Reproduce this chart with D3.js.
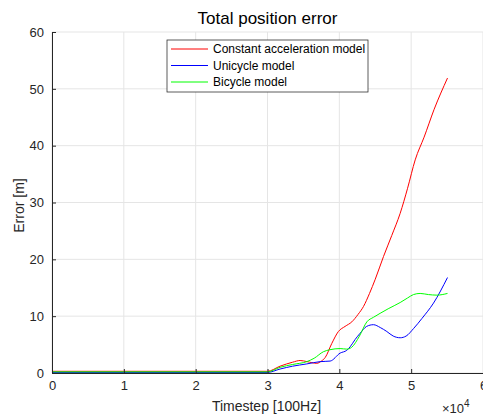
<!DOCTYPE html>
<html>
<head>
<meta charset="utf-8">
<script src="https://cdn.jsdelivr.net/npm/d3@7"></script>
<style>
  body { margin: 0; background: #fff; }
  text { font-family: "Liberation Sans", Arial, sans-serif; }
</style>
</head>
<body>
<div id="chart"></div>
<script>
// data (x in timesteps, y in metres)
const seriesNames = ['Constant acceleration model', 'Unicycle model', 'Bicycle model'];
const seriesColors = ['#ff0000', '#0000ff', '#00ff00'];

const caX = [0, 10000, 20000, 30000, 31750, 33500, 34540, 35500, 36860, 37500, 38020, 38950, 39870, 40800, 41740, 42600, 43360, 44200, 45000, 46150, 47300, 48470, 49500, 50560, 51800, 53200, 55060];
const caY = [0.3, 0.3, 0.3, 0.3, 1.2, 1.9, 2.2, 2.0, 1.7, 2.1, 2.7, 5.2, 7.3, 8.2, 9.0, 10.3, 11.7, 14.0, 16.5, 20.5, 24.2, 28.1, 32.5, 37.5, 41.5, 46.4, 51.9];

const uniX = [0, 10000, 20000, 30000, 31750, 33500, 35470, 37330, 38720, 40110, 41040, 41500, 42200, 42900, 43800, 44750, 45700, 46610, 47500, 48470, 49300, 50320, 51500, 53110, 55060];
const uniY = [0.1, 0.1, 0.1, 0.1, 0.7, 1.2, 1.6, 2.0, 2.1, 3.5, 4.0, 4.6, 5.9, 7.0, 8.2, 8.5, 8.0, 7.3, 6.5, 6.2, 6.5, 7.8, 9.6, 12.3, 16.8];

const biX = [0, 10000, 20000, 30000, 31750, 33500, 35470, 36500, 37790, 38700, 40110, 41040, 41700, 42800, 43830, 44750, 45680, 46800, 48470, 49500, 50320, 51250, 52400, 53580, 55060];
const biY = [0.2, 0.2, 0.2, 0.2, 1.0, 1.5, 2.0, 2.6, 3.75, 4.1, 4.3, 4.2, 4.5, 6.5, 9.0, 9.8, 10.5, 11.3, 12.4, 13.2, 13.8, 14.0, 13.8, 13.7, 14.0];

const xTicks = [0, 10000, 20000, 30000, 40000, 50000, 60000];
const yTicks = [0, 10, 20, 30, 40, 50, 60];

const width = 483, height = 416;
const margin = { top: 32, right: 0, bottom: 43, left: 52 };
const plotW = width - margin.left - margin.right;
const plotH = height - margin.top - margin.bottom;

const svg = d3.select('#chart').append('svg')
  .attr('width', width).attr('height', height);

const xScale = d3.scaleLinear().domain([0, 60000]).range([0, plotW]);
const yScale = d3.scaleLinear().domain([0, 60]).range([plotH, 0]);

const g = svg.append('g').attr('transform', `translate(${margin.left},${margin.top})`);

// grid
g.append('g').selectAll('line').data(xTicks).join('line')
  .attr('x1', d => xScale(d)).attr('x2', d => xScale(d))
  .attr('y1', 0).attr('y2', plotH)
  .attr('stroke', '#e5e5e5').attr('stroke-width', 1);
g.append('g').selectAll('line').data(yTicks).join('line')
  .attr('x1', 0).attr('x2', plotW)
  .attr('y1', d => yScale(d)).attr('y2', d => yScale(d))
  .attr('stroke', '#e5e5e5').attr('stroke-width', 1);

// lines
const series = [
  { x: caX, y: caY },
  { x: uniX, y: uniY },
  { x: biX, y: biY },
];
const line = d3.line()
  .x(d => xScale(d[0]))
  .y(d => yScale(d[1]))
  .curve(d3.curveMonotoneX);

series.forEach((s, i) => {
  g.append('path')
    .datum(s.x.map((v, j) => [v, s.y[j]]))
    .attr('fill', 'none')
    .attr('stroke', seriesColors[i])
    .attr('stroke-width', 1)
    .attr('d', line);
});

// axes
const xAxis = d3.axisBottom(xScale).tickValues(xTicks)
  .tickFormat(d => d / 10000).tickSizeInner(-4).tickSizeOuter(0).tickPadding(8);
const yAxis = d3.axisLeft(yScale).tickValues(yTicks)
  .tickSizeInner(-4).tickSizeOuter(0).tickPadding(8);

const xg = g.append('g').attr('transform', `translate(0,${plotH})`).call(xAxis);
const yg = g.append('g').call(yAxis);
[xg, yg].forEach(a => {
  a.select('.domain').attr('stroke', '#262626');
  a.selectAll('.tick line').attr('stroke', '#262626');
  a.selectAll('.tick text').attr('fill', '#262626').style('font-size', '13px')
    .style('font-family', '"Liberation Sans", Arial, sans-serif');
});

// title and labels
svg.append('text').attr('x', margin.left + plotW / 2).attr('y', 24)
  .attr('text-anchor', 'middle').attr('fill', '#000').style('font-size', '17px')
  .text('Total position error');

svg.append('text').attr('x', margin.left + plotW / 2 - 1).attr('y', 411)
  .attr('text-anchor', 'middle').attr('fill', '#262626').style('font-size', '14px')
  .text('Timestep [100Hz]');

svg.append('text')
  .attr('transform', `translate(24,${margin.top + plotH / 2 + 3}) rotate(-90)`)
  .attr('text-anchor', 'middle').attr('fill', '#262626').style('font-size', '14px')
  .text('Error [m]');

const expo = svg.append('text').attr('x', 442).attr('y', 413)
  .attr('fill', '#262626').style('font-size', '13px');
expo.append('tspan').text('\u00d710');
expo.append('tspan').attr('dy', -6).style('font-size', '10px').text('4');

// legend
const legend = svg.append('g').attr('transform', 'translate(167,40)');
legend.append('rect').attr('width', 201).attr('height', 52)
  .attr('fill', '#fff').attr('stroke', '#262626').attr('stroke-width', 0.75);
seriesNames.forEach((name, i) => {
  const yy = 9 + i * 16.5;
  legend.append('line').attr('x1', 4).attr('x2', 41).attr('y1', yy).attr('y2', yy)
    .attr('stroke', seriesColors[i]).attr('stroke-width', 1);
  legend.append('text').attr('x', 46).attr('y', yy + 4)
    .attr('fill', '#000').style('font-size', '12px').text(name);
});
</script>
</body>
</html>
